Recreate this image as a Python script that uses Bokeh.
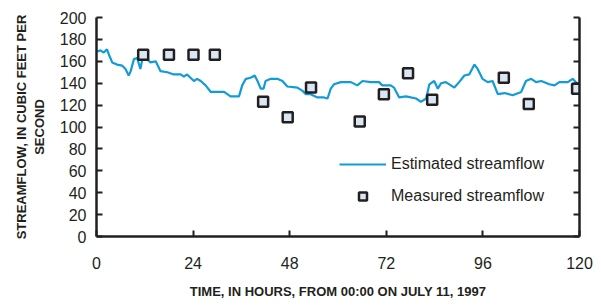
from bokeh.plotting import figure
from bokeh.models import Range1d, FixedTicker, LinearAxis, Legend, LegendItem
from bokeh.embed import file_html
from bokeh.resources import INLINE

# Estimated streamflow (hours since 00:00 July 11, 1997; cubic feet per second)
est_hours = [0.2, 1.0, 1.8, 2.6, 3.1, 3.9, 5.1, 6.4, 7.2, 8.0, 8.5, 9.3, 10.1, 10.9, 11.4,
             12.6, 13.4, 14.7, 15.1, 15.9, 17.6, 19.2, 20.9, 21.7, 22.5, 24.2, 25.0, 25.9,
             27.1, 28.4, 30.0, 31.7, 32.5, 33.3, 35.4, 36.2, 37.1, 38.3, 39.3, 40.0, 40.8,
             41.5, 42.0, 43.3, 44.9, 46.2, 47.4, 49.9, 51.2, 52.0, 53.2, 54.9, 56.5, 57.4,
             58.2, 59.0, 60.7, 63.2, 64.8, 66.1, 68.1, 70.2, 71.0, 73.1, 73.9, 75.2, 76.9,
             78.1, 79.4, 80.6, 81.9, 82.7, 83.9, 84.8, 85.6, 86.8, 88.9, 90.1, 91.4, 92.6,
             93.9, 94.7, 95.9, 97.2, 98.4, 99.7, 101.4, 103.4, 105.5, 106.7, 108.0, 109.2,
             110.5, 112.5, 113.8, 115.0, 117.1, 118.3, 119.6]
est_flow = [169, 170, 168, 171, 166, 159, 157, 156, 153, 147, 151, 162, 163, 153, 162,
            162, 159, 160, 157, 151, 150, 148, 148, 146, 148, 142, 144, 142,
            138, 132, 132, 132, 130, 128, 128, 138, 144, 145, 147, 142, 135,
            135, 142, 144, 144, 142, 137, 136, 133, 130, 130, 127, 127, 126,
            135, 139, 141, 141, 138, 142, 141, 141, 138, 138, 136, 127, 128,
            127, 126, 123, 126, 139, 142, 135, 140, 141, 136, 141, 147, 148,
            157, 153, 144, 141, 142, 130, 131, 129, 132, 142, 144, 141,
            142, 139, 138, 141, 141, 144, 139]

# Measured streamflow
meas_hours = [11.6, 18.0, 24.1, 29.4, 41.4, 47.5, 53.3, 65.4, 71.4, 77.4, 83.4, 101.2, 107.4, 119.4]
meas_flow = [166, 166, 166, 166, 123, 109, 136, 105, 130, 149, 125, 145, 121, 135]

x_ticks = [0, 24, 48, 72, 96, 120]
y_ticks = [0, 20, 40, 60, 80, 100, 120, 140, 160, 180, 200]

DARK = "#231f20"
BLUE = "#119bd7"
FONT = "Liberation Sans"

p = figure(width=595, height=301, output_backend="svg", toolbar_location=None,
           x_range=Range1d(0, 120), y_range=Range1d(0, 200),
           min_border_left=96, min_border_right=16, min_border_top=17, min_border_bottom=60)
p.outline_line_color = None
p.xgrid.visible = False
p.ygrid.visible = False
p.background_fill_color = "white"
p.border_fill_color = "white"

line_r = p.line(est_hours, est_flow, line_color=BLUE, line_width=2.2)
sq_r = p.scatter(meas_hours, meas_flow, marker="square", size=10,
                 fill_color="#d8e7f3", line_color=DARK, line_width=2.5)

for ax in (p.xaxis[0], p.yaxis[0]):
    ax.axis_line_color = DARK
    ax.axis_line_width = 2.5
    ax.major_tick_line_color = DARK
    ax.major_tick_line_width = 2
    ax.major_tick_in = 6
    ax.major_tick_out = 0
    ax.minor_tick_line_color = None
    ax.major_label_text_font = FONT
    ax.major_label_text_font_size = "16px"
    ax.major_label_text_color = DARK
    ax.axis_label_text_font = FONT
    ax.axis_label_text_font_style = "bold"
    ax.axis_label_text_font_size = "13px"
    ax.axis_label_text_color = DARK

p.xaxis[0].ticker = FixedTicker(ticks=x_ticks)
p.yaxis[0].ticker = FixedTicker(ticks=y_ticks)
p.xaxis[0].major_label_standoff = 20
p.yaxis[0].major_label_standoff = 10
p.xaxis[0].axis_label = "TIME, IN HOURS, FROM 00:00 ON JULY 11, 1997"
p.xaxis[0].axis_label_standoff = 12
p.yaxis[0].axis_label = "STREAMFLOW, IN CUBIC FEET PER\nSECOND"
p.yaxis[0].axis_label_standoff = 10

right = LinearAxis(ticker=FixedTicker(ticks=y_ticks))
right.axis_line_color = DARK
right.axis_line_width = 2.5
right.major_tick_line_color = DARK
right.major_tick_line_width = 2
right.major_tick_in = 6
right.major_tick_out = 0
right.minor_tick_line_color = None
right.major_label_text_font_size = "0px"
right.major_label_standoff = 0
p.add_layout(right, "right")

legend = Legend(items=[LegendItem(label="Estimated streamflow", renderers=[line_r]),
                       LegendItem(label="Measured streamflow", renderers=[sq_r])],
                location=(243, 30), orientation="vertical")
legend.border_line_color = None
legend.background_fill_alpha = 0
legend.padding = 0
legend.margin = 0
legend.spacing = 12
legend.glyph_width = 47
legend.glyph_height = 20
legend.label_height = 20
legend.label_standoff = 5
legend.label_text_font = FONT
legend.label_text_font_size = "16px"
legend.label_text_color = DARK
p.add_layout(legend, "center")

open("out.html", "w").write(file_html(p, INLINE))
